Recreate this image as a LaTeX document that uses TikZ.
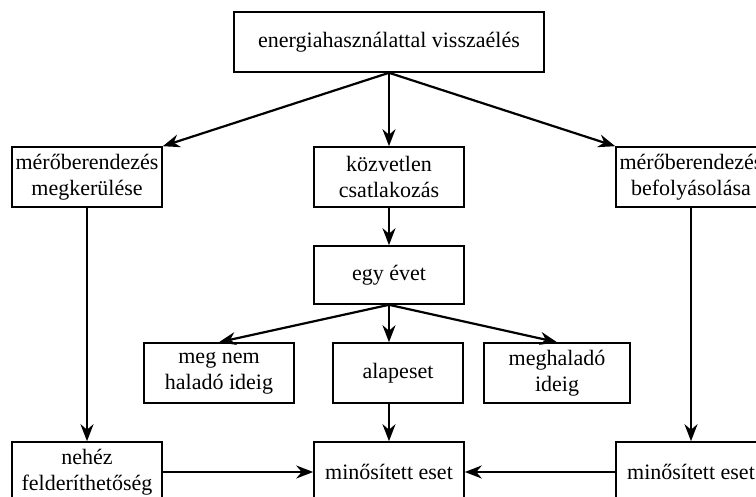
\documentclass[tikz,border=0pt]{standalone}
\usepackage{fontspec}
\setmainfont{Liberation Serif}
\usetikzlibrary{arrows.meta}
\begin{document}
\begin{tikzpicture}[x=1pt, y=-1pt]
      \tikzstyle{box}=[draw, line width=1.6pt, inner sep=2pt, align=center,
                       minimum height=60pt, minimum width=150pt,
                       font=\fontsize{22}{26}\selectfont]
      \tikzstyle{arrow}=[line width=2.2pt, -{Stealth[length=17pt, width=13pt]}]
      \clip (0, 0) rectangle (756, 497);
      \node[box, minimum width=310pt] (abuse) at (389, 42) {energiahasználattal visszaélés};
      \node[box] (bypass) at (87, 177) {mérőberendezés\\megkerülése};
      \node[box] (direct) at (389, 177) {közvetlen\\csatlakozás};
      \node[box] (tamper) at (691, 177) {mérőberendezés\\befolyásolása};
      \node[box, minimum height=58pt] (year) at (389, 275) {egy évet};
      \node[box] (below) at (219, 373) {meg nem\\haladó ideig};
      \node[box, minimum width=130pt] (basic) at (398, 373) {alapeset};
      \node[box, minimum width=146pt] (above) at (557, 373) {meghaladó\\ideig};
      \node[box] (hidden) at (87, 472) {nehéz\\felderíthetőség};
      \node[box] (qualc) at (389, 472) {minősített eset};
      \node[box] (qualr) at (691, 472) {minősített eset};

      \foreach \src/\dst in {abuse.south/bypass.north east, abuse/direct, abuse.south/tamper.north west,
                             direct/year, year.south/below.north, year.south/above.north,
                             bypass/hidden, tamper/qualr, hidden/qualc, qualr/qualc} {%
        \draw[arrow] (\src) to (\dst);
      }
      \draw[arrow] (year) to (year |- basic.north);
      \draw[arrow] (basic.south -| qualc) to (qualc);
\end{tikzpicture}
\end{document}
